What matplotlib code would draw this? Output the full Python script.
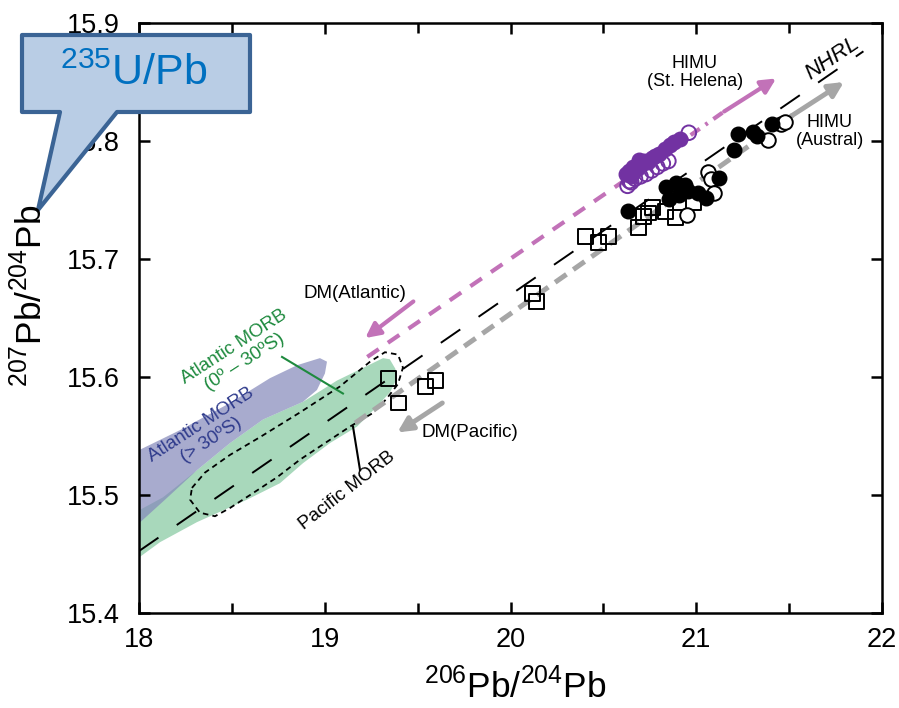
import numpy as np
import matplotlib
matplotlib.use("Agg")
import matplotlib.pyplot as plt
from matplotlib.patches import Polygon

plt.rcParams['font.family'] = ['Liberation Sans', 'DejaVu Sans']
plt.rcParams['mathtext.fontset'] = 'custom'
plt.rcParams['mathtext.rm'] = 'Liberation Sans'
plt.rcParams['lines.scale_dashes'] = False

# St. Helena (HIMU) - purple
sth_fill_x = [20.62, 20.64, 20.65, 20.66, 20.68, 20.69, 20.70, 20.72, 20.74, 20.76, 20.78, 20.80, 20.83, 20.86, 20.88, 20.91]
sth_fill_y = [15.772, 15.775, 15.770, 15.778, 15.776, 15.784, 15.780, 15.783, 15.782, 15.786, 15.787, 15.789, 15.793, 15.797, 15.799, 15.802]
sth_open_x = [20.63, 20.64, 20.65, 20.67, 20.70, 20.73, 20.76, 20.79, 20.82, 20.85, 20.96]
sth_open_y = [15.762, 15.766, 15.765, 15.768, 15.770, 15.772, 15.775, 15.778, 15.781, 15.783, 15.807]

# Austral (HIMU) - black
aus_fill_x = [20.631, 20.836, 20.889, 20.938, 21.008, 21.051, 21.121, 20.852, 20.906, 20.955, 21.202, 21.224, 21.305, 21.326, 21.407]
aus_fill_y = [15.741, 15.761, 15.764, 15.763, 15.756, 15.752, 15.769, 15.751, 15.754, 15.758, 15.792, 15.806, 15.808, 15.804, 15.814]
aus_open_x = [20.949, 21.062, 21.078, 21.094, 21.385, 21.455, 21.477]
aus_open_y = [15.737, 15.774, 15.768, 15.756, 15.801, 15.814, 15.816]

# squares
sq_x = [19.342, 19.396, 19.542, 19.596, 20.119, 20.140, 20.404, 20.474, 20.528, 20.690, 20.717, 20.744, 20.766, 20.836, 20.889, 20.987]
sq_y = [15.599, 15.578, 15.592, 15.597, 15.671, 15.664, 15.719, 15.714, 15.719, 15.727, 15.736, 15.739, 15.744, 15.740, 15.735, 15.748]

# fields
atl_south = [(18.0, 15.538), (18.221, 15.555), (18.490, 15.578), (18.705, 15.599), (18.851, 15.610),
             (18.974, 15.616), (19.012, 15.613), (19.001, 15.603), (18.958, 15.589), (18.883, 15.579),
             (18.668, 15.564), (18.490, 15.544), (18.312, 15.521), (18.140, 15.496), (18.0, 15.476)]
atl_eq = [(18.0, 15.487), (18.129, 15.498), (18.312, 15.521), (18.490, 15.544), (18.668, 15.564),
          (18.883, 15.579), (19.066, 15.597), (19.314, 15.616), (19.350, 15.615), (19.380, 15.607),
          (19.389, 15.599), (19.351, 15.587), (19.281, 15.575), (19.174, 15.558), (19.028, 15.544),
          (18.883, 15.527), (18.759, 15.510), (18.581, 15.496), (18.312, 15.477), (18.113, 15.460),
          (18.0, 15.447)]
pac = [(18.285, 15.506), (18.355, 15.519), (18.490, 15.534), (18.651, 15.549), (18.867, 15.570),
       (19.082, 15.592), (19.244, 15.613), (19.324, 15.621), (19.394, 15.619), (19.421, 15.608),
       (19.394, 15.594), (19.330, 15.581), (19.254, 15.569), (19.136, 15.558), (18.867, 15.530),
       (18.743, 15.515), (18.598, 15.500), (18.490, 15.489), (18.409, 15.482), (18.328, 15.485),
       (18.275, 15.496)]

# reference lines
nhrl_x = [18.0, 21.9]
nhrl_y = [15.4525, 15.876]
sth_line_x = [19.229, 20.970]
sth_line_y = [15.617, 15.805]
pac_line_x = [19.164, 21.52]
pac_line_y = [15.561, 15.822]

purple = '#7232A2'
pink = '#C272B8'
gray = '#A6A6A6'

fig = plt.figure(figsize=(8.99, 7.08), dpi=100)
ax = fig.add_axes([139/899, 95/708, 743/899, 590/708])

ax.add_patch(Polygon(atl_eq, closed=True, fc='#6EBE8F', ec='none', alpha=0.6, zorder=1))
ax.add_patch(Polygon(atl_south, closed=True, fc='#8488BA', ec='none', alpha=0.7, zorder=1.5))
ax.add_patch(Polygon(pac, closed=True, fill=False, ec='black', lw=1.3, ls=(0, (4, 3)), zorder=2))

ax.plot(nhrl_x, nhrl_y, color='black', lw=1.4, ls=(0, (17, 16)), zorder=2)
ax.plot(pac_line_x, pac_line_y, color=gray, lw=3.6, ls=(0, (10, 6)), zorder=2)
ax.plot(sth_line_x, sth_line_y, color=pink, lw=3.0, ls=(0, (10, 8)), zorder=2)
ax.plot([20.97, 21.15], [15.805, 15.825], color=pink, lw=3.0, ls=(0, (8, 5, 2, 5)), zorder=2)

arr = dict(arrowstyle='-|>', mutation_scale=22, shrinkA=0, shrinkB=0)
ax.annotate('', xy=(21.43, 15.853), xytext=(21.15, 15.825), arrowprops=dict(arr, color=pink, lw=3))
ax.annotate('', xy=(21.795, 15.850), xytext=(21.50, 15.820), arrowprops=dict(arr, color=gray, lw=3.5))
ax.annotate('', xy=(19.218, 15.633), xytext=(19.477, 15.664), arrowprops=dict(arr, color=pink, lw=3))
ax.annotate('', xy=(19.391, 15.553), xytext=(19.633, 15.578), arrowprops=dict(arr, color=gray, lw=3.5))

ax.scatter(sq_x, sq_y, marker='s', s=115, facecolor='none', edgecolor='black', lw=1.4, zorder=3)
ax.scatter(aus_open_x, aus_open_y, marker='o', s=110, facecolor='white', edgecolor='black', lw=1.4, zorder=3)
ax.scatter(aus_fill_x, aus_fill_y, marker='o', s=110, color='black', zorder=4)
ax.scatter(sth_open_x, sth_open_y, marker='o', s=110, facecolor='none', edgecolor=purple, lw=1.4, zorder=3)
ax.scatter(sth_fill_x, sth_fill_y, marker='o', s=110, color=purple, zorder=4)

# pointers
ax.plot([18.770, 19.098], [15.617, 15.586], color='#1E8A3E', lw=1.5, zorder=3)
ax.plot([19.152, 19.19], [15.558, 15.521], color='black', lw=1.5, zorder=3)

fs = 13
ax.text(20.993, 15.858, 'HIMU\n(St. Helena)', ha='center', va='center', fontsize=fs, linespacing=1.1)
ax.text(21.72, 15.808, 'HIMU\n(Austral)', ha='center', va='center', fontsize=fs, linespacing=1.1)
ax.text(21.731, 15.870, 'NHRL', ha='center', va='center', fontsize=16, style='italic', rotation=34)
ax.text(19.163, 15.671, 'DM(Atlantic)', ha='center', va='center', fontsize=13.5)
ax.text(19.782, 15.553, 'DM(Pacific)', ha='center', va='center', fontsize=13.5)
ax.text(19.12, 15.504, 'Pacific MORB', ha='center', va='center', fontsize=13.5, rotation=38)
ax.text(18.36, 15.553, 'Atlantic MORB\n(> 30ºS)', ha='center', va='center', fontsize=13.5,
        rotation=33, color='#2F3B8C', linespacing=1.1)
ax.text(18.54, 15.619, 'Atlantic MORB\n(0º – 30ºS)', ha='center', va='center', fontsize=13.5,
        rotation=33, color='#1E8A3E', linespacing=1.1)

ax.set_xlim(18, 22)
ax.set_ylim(15.4, 15.9)
ax.set_xticks([18, 19, 20, 21, 22])
ax.set_xticks(np.arange(18.5, 22, 1.0), minor=True)
ax.set_yticks([15.4, 15.5, 15.6, 15.7, 15.8, 15.9])
ax.set_yticklabels(['15.4', '15.5', '15.6', '15.7', '15.8', '15.9'])
ax.tick_params(which='both', direction='in', top=True, right=True, width=1.8)
ax.tick_params(which='major', length=8, labelsize=19.5)
ax.tick_params(which='minor', length=7)
ax.tick_params(axis='x', pad=10)
ax.tick_params(axis='y', pad=14)
for s in ax.spines.values():
    s.set_linewidth(1.8)

fig.text(515/899, 1 - 686/708, r'$^{206}$Pb/$^{204}$Pb', fontsize=25.5, ha='center', va='center')
fig.text(30/899, 1 - 296/708, r'$^{207}$Pb/$^{204}$Pb', fontsize=25.5, ha='center', va='center', rotation=90)

# callout
ov = fig.add_axes([0, 0, 1, 1])
ov.set_xlim(0, 899)
ov.set_ylim(708, 0)
ov.axis('off')
callout = [(22, 35), (250, 35), (250, 112), (117, 112), (38, 210), (60, 112), (22, 112)]
ov.add_patch(Polygon(callout, closed=True, fc='#B9CDE5', ec='#3B6495', lw=3, joinstyle='round'))
ov.text(134, 74, r'$^{235}$U/Pb', ha='center', va='center', fontsize=31, color='#0070C0')

fig.savefig('out.png', dpi=100)
